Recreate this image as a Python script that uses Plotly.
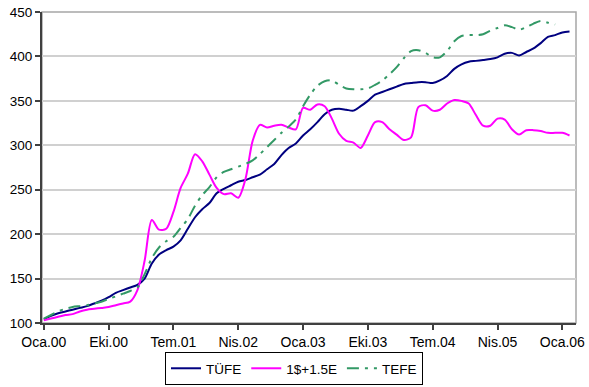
import plotly.graph_objects as go

# Monthly index series, Jan 2000 onwards (month number from Oca.00)
tufe = [104, 108, 111, 113, 115, 117, 119, 122, 125, 129, 134, 137,
        140, 143, 150, 167, 177, 182, 186, 193, 206, 219, 228, 235,
        246, 251, 255, 259, 261, 264, 267, 273, 279, 289, 297, 302,
        311, 318, 326, 335, 340, 341, 340, 339, 344, 350, 357, 360,
        363, 366, 369, 370, 371, 371, 370, 373, 378, 386, 391, 394,
        395, 396, 397, 399, 403, 404, 401, 405, 409, 415, 422, 424,
        427, 428]

kur = [103, 105, 107, 109, 110, 113, 115, 116, 117, 118, 120, 122,
       124, 137, 170, 216, 205, 206, 225, 252, 268, 290, 282, 267,
       252, 245, 246, 241, 262, 305, 323, 320, 322, 323, 320, 318,
       342, 340, 346, 344, 330, 313, 305, 303, 297, 311, 326, 326,
       318, 312, 306, 309, 343, 345, 339, 340, 347, 351, 350, 347,
       334, 322, 322, 330, 329, 318, 312, 317, 317, 316, 314, 314,
       314, 311]

tefe = [105, 109, 113, 116, 118, 119, 120, 122, 124, 127, 130, 133,
        136, 140, 155, 173, 185, 192, 197, 207, 217, 232, 244, 253,
        264, 270, 273, 276, 279, 283, 290, 298, 306, 314, 321, 329,
        344, 357, 367, 372, 373, 368, 364, 363, 363, 364, 368, 373,
        380, 388, 398, 406, 407, 404, 399, 399, 406, 417, 423, 424,
        424, 425, 429, 432, 435, 433, 430, 433, 437, 440, 438, 436]

tick_months = [0, 9, 18, 27, 36, 45, 54, 63, 72]
tick_labels = ["Oca.00", "Eki.00", "Tem.01", "Nis.02", "Oca.03",
               "Eki.03", "Tem.04", "Nis.05", "Oca.06"]

FONT = "Liberation Sans, Arial, sans-serif"

fig = go.Figure()
fig.add_trace(go.Scatter(
    x=list(range(len(tufe))), y=tufe, name="TÜFE", mode="lines",
    line=dict(color="#000080", width=2, shape="spline", smoothing=0.8)))
fig.add_trace(go.Scatter(
    x=list(range(len(kur))), y=kur, name="1$+1.5E", mode="lines",
    line=dict(color="#FF00FF", width=2, shape="spline", smoothing=0.8)))
fig.add_trace(go.Scatter(
    x=list(range(len(tefe))), y=tefe, name="TEFE", mode="lines",
    line=dict(color="#339966", width=2, shape="spline", smoothing=0.8,
              dash="12px,6px,3px,6px")))

# light frame on the top and right of the plot area
fig.add_shape(type="rect", xref="paper", yref="paper", x0=0, x1=1, y0=0, y1=1,
              line=dict(color="#a6a6a6", width=1.5), layer="below")

fig.update_layout(
    width=589, height=387,
    margin=dict(l=42, r=13, t=12, b=64, autoexpand=False),
    paper_bgcolor="white", plot_bgcolor="white",
    font=dict(family=FONT, size=14, color="black"),
    showlegend=True,
    legend=dict(orientation="h", x=294 / 589, xanchor="center", xref="container",
                y=(387 - 385) / 387, yanchor="bottom", yref="container",
                bordercolor="black", borderwidth=1,
                font=dict(size=13.5), itemwidth=30,
                tracegroupgap=0),
)
fig.update_xaxes(
    range=[-0.25, 73.9], tickvals=tick_months, ticktext=tick_labels,
    showgrid=False, zeroline=False,
    showline=True, linecolor="#404040", linewidth=2,
    ticks="outside", ticklen=5, tickcolor="#404040", tickwidth=1.5,
    tickfont=dict(size=14))
fig.update_yaxes(
    range=[100, 450], tickvals=[100, 150, 200, 250, 300, 350, 400, 450],
    showgrid=True, gridcolor="#d0d0d0", gridwidth=1.5, zeroline=False,
    showline=True, linecolor="#404040", linewidth=2,
    ticks="outside", ticklen=5, tickcolor="#404040", tickwidth=1.5,
    tickfont=dict(size=13.5))

fig.write_html("out.html")
